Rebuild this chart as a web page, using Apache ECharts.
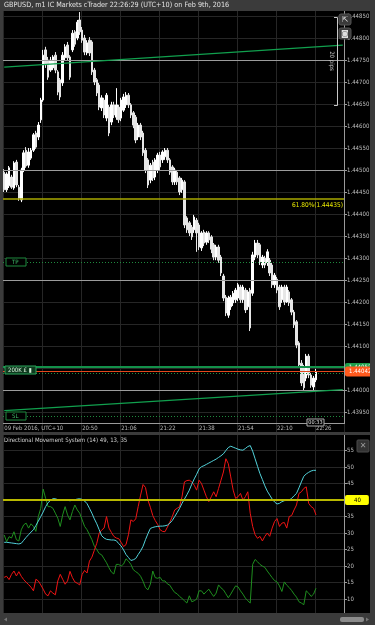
<!DOCTYPE html>
<html><head><meta charset="utf-8">
<script src="https://cdn.jsdelivr.net/npm/echarts@6/dist/echarts.min.js"></script>
<style>html,body{margin:0;padding:0;background:#000;overflow:hidden}#c{width:375px;height:625px}</style>
</head><body><div id="c"></div>
<script>
const FONT = 'DejaVu Sans Condensed, DejaVu Sans, sans-serif';
// time categories: 1-minute bars from 20:18, plus empty future slots
const startMinute = 20 * 60 + 18;
const slotCount = 140;
const categories = [];
for (let i = 0; i < slotCount; i++) {
  const m = startMinute + i;
  categories.push(String(Math.floor(m / 60)).padStart(2, '0') + ':' + String(m % 60).padStart(2, '0'));
}
const dateLabel = '09 Feb 2016, UTC+10';

const opens = [
1.44495,1.44455,1.44464,1.44484,1.44459,1.44518,1.44461,1.44432,1.44500,1.44545,
1.44511,1.44527,1.44545,1.44584,1.44575,1.44614,1.44659,1.44773,1.44750,1.44727,
1.44732,1.44761,1.44723,1.44705,1.44698,1.44755,1.44784,1.44757,1.44773,1.44814,
1.44800,1.44841,1.44818,1.44800,1.44766,1.44795,1.44791,1.44727,1.44705,1.44693,
1.44641,1.44659,1.44618,1.44643,1.44609,1.44648,1.44620,1.44643,1.44618,1.44636,
1.44648,1.44670,1.44648,1.44630,1.44620,1.44575,1.44602,1.44584,1.44545,1.44523,
1.44477,1.44518,1.44484,1.44500,1.44534,1.44523,1.44530,1.44545,1.44523,1.44507,
1.44473,1.44495,1.44482,1.44455,1.44473,1.44391,1.44380,1.44370,1.44364,1.44386,
1.44375,1.44323,1.44359,1.44336,1.44357,1.44348,1.44330,1.44302,1.44325,1.44302,
1.44259,1.44211,1.44170,1.44189,1.44198,1.44205,1.44209,1.44234,1.44205,1.44227,
1.44189,1.44227,1.44220,1.44302,1.44334,1.44330,1.44284,1.44300,1.44289,1.44295,
1.44284,1.44239,1.44252,1.44234,1.44205,1.44234,1.44200,1.44223,1.44205,1.44177,
1.44155,1.44107,1.44061,1.44052,1.44027,1.44077,1.44034,1.44007,1.44023];
const closes = [
1.44455,1.44491,1.44505,1.44461,1.44516,1.44466,1.44436,1.44500,1.44539,1.44509,
1.44541,1.44545,1.44580,1.44552,1.44602,1.44659,1.44761,1.44739,1.44711,1.44750,
1.44757,1.44727,1.44677,1.44666,1.44761,1.44780,1.44755,1.44711,1.44811,1.44786,
1.44836,1.44814,1.44795,1.44768,1.44789,1.44766,1.44723,1.44700,1.44675,1.44643,
1.44664,1.44625,1.44670,1.44584,1.44648,1.44625,1.44648,1.44614,1.44659,1.44666,
1.44670,1.44648,1.44625,1.44602,1.44568,1.44602,1.44575,1.44539,1.44500,1.44466,
1.44511,1.44482,1.44523,1.44534,1.44507,1.44541,1.44545,1.44523,1.44495,1.44473,
1.44500,1.44473,1.44450,1.44477,1.44375,1.44364,1.44357,1.44348,1.44393,1.44357,
1.44325,1.44357,1.44334,1.44357,1.44341,1.44320,1.44302,1.44325,1.44295,1.44266,
1.44209,1.44175,1.44209,1.44211,1.44220,1.44227,1.44239,1.44205,1.44234,1.44182,
1.44223,1.44141,1.44307,1.44334,1.44307,1.44291,1.44302,1.44284,1.44314,1.44266,
1.44239,1.44261,1.44227,1.44189,1.44234,1.44200,1.44234,1.44198,1.44177,1.44148,
1.44102,1.44057,1.44016,1.44005,1.44077,1.44034,1.44011,1.44027,1.44042];
const lows = [
1.44450,1.44450,1.44459,1.44457,1.44455,1.44461,1.44430,1.44427,1.44495,1.44505,
1.44505,1.44523,1.44541,1.44548,1.44568,1.44607,1.44655,1.44732,1.44705,1.44723,
1.44727,1.44720,1.44670,1.44659,1.44691,1.44750,1.44750,1.44705,1.44768,1.44780,
1.44795,1.44807,1.44789,1.44761,1.44761,1.44759,1.44716,1.44693,1.44668,1.44636,
1.44634,1.44618,1.44611,1.44577,1.44602,1.44618,1.44614,1.44607,1.44611,1.44632,
1.44641,1.44641,1.44618,1.44595,1.44561,1.44568,1.44568,1.44532,1.44493,1.44459,
1.44470,1.44475,1.44477,1.44493,1.44500,1.44516,1.44523,1.44516,1.44489,1.44466,
1.44466,1.44466,1.44443,1.44448,1.44368,1.44357,1.44350,1.44341,1.44357,1.44314,
1.44318,1.44316,1.44327,1.44330,1.44334,1.44311,1.44295,1.44295,1.44289,1.44259,
1.44202,1.44168,1.44164,1.44182,1.44191,1.44198,1.44202,1.44198,1.44198,1.44175,
1.44182,1.44134,1.44214,1.44295,1.44300,1.44284,1.44277,1.44277,1.44282,1.44259,
1.44232,1.44232,1.44220,1.44182,1.44198,1.44193,1.44198,1.44191,1.44170,1.44141,
1.44095,1.44050,1.44009,1.44000,1.44020,1.44027,1.44005,1.44000,1.44018];
const highs = [
1.44502,1.44495,1.44509,1.44489,1.44520,1.44523,1.44466,1.44505,1.44545,1.44552,
1.44550,1.44550,1.44584,1.44589,1.44609,1.44664,1.44773,1.44780,1.44757,1.44757,
1.44761,1.44768,1.44727,1.44709,1.44768,1.44786,1.44791,1.44761,1.44818,1.44818,
1.44841,1.44859,1.44825,1.44807,1.44795,1.44802,1.44795,1.44732,1.44709,1.44698,
1.44670,1.44664,1.44675,1.44648,1.44655,1.44655,1.44686,1.44648,1.44664,1.44673,
1.44677,1.44675,1.44652,1.44634,1.44625,1.44607,1.44607,1.44589,1.44550,1.44527,
1.44516,1.44523,1.44527,1.44539,1.44541,1.44545,1.44550,1.44550,1.44527,1.44511,
1.44505,1.44500,1.44486,1.44482,1.44477,1.44395,1.44384,1.44375,1.44398,1.44391,
1.44380,1.44361,1.44364,1.44361,1.44361,1.44352,1.44334,1.44330,1.44330,1.44307,
1.44264,1.44216,1.44214,1.44216,1.44225,1.44232,1.44243,1.44239,1.44239,1.44232,
1.44227,1.44232,1.44314,1.44341,1.44341,1.44334,1.44307,1.44305,1.44320,1.44300,
1.44289,1.44266,1.44257,1.44239,1.44239,1.44239,1.44239,1.44227,1.44209,1.44182,
1.44159,1.44111,1.44068,1.44057,1.44082,1.44082,1.44039,1.44032,1.44048];

// Directional Movement System (14)
const adx = [
27.2,27.2,27.1,27.0,26.9,26.8,26.7,26.9,27.8,28.7,
29.5,30.3,31.0,32.3,33.6,35.0,36.4,38.0,39.2,39.9,
40.4,40.4,40.1,39.9,40.0,40.0,39.9,39.8,39.9,40.1,
40.3,40.4,40.2,39.7,38.9,37.5,36.0,34.3,32.8,31.0,
29.2,28.5,28.1,28.0,27.9,27.9,27.7,26.8,26.1,24.9,
23.5,22.6,21.7,21.9,22.3,23.5,24.6,26.0,28.0,29.8,
31.4,31.7,31.9,32.0,32.1,32.1,32.2,32.4,33.0,33.8,
35.0,36.2,37.5,39.0,40.3,41.6,43.0,44.8,46.4,47.8,
49.4,50.1,50.4,50.8,51.2,51.6,52.0,52.4,52.9,53.4,
54.0,55.0,55.9,56.3,56.0,55.7,55.4,55.2,55.1,55.6,
56.2,56.5,54.8,52.5,50.2,48.0,46.2,44.3,42.7,41.5,
40.3,39.4,38.8,39.0,39.5,39.8,39.9,40.0,40.5,41.3,
42.0,43.7,45.5,47.2,47.9,48.4,48.8,49.0,49.0];
const diMinus = [
16.6,16.9,15.9,17.5,18.5,17.0,18.3,16.9,15.9,15.1,
14.4,13.6,12.5,16.0,15.5,14.3,13.0,11.5,11.0,12.5,
11.8,11.3,15.5,17.5,16.0,14.5,15.5,18.4,16.5,15.2,
14.8,14.3,17.5,18.7,17.9,21.5,22.7,24.8,26.9,30.0,
30.9,31.5,35.0,31.5,30.2,29.0,28.5,28.3,27.2,25.9,
26.5,29.5,34.0,33.5,34.3,38.0,41.5,44.7,43.8,40.0,
37.8,35.3,33.8,32.6,31.0,30.5,30.4,31.8,33.3,35.0,
37.0,37.5,38.0,41.0,45.5,45.9,46.0,45.5,44.5,43.0,
46.0,45.0,43.0,41.0,39.5,41.0,42.5,41.0,43.5,46.0,
48.5,52.5,51.0,47.0,43.0,40.5,41.0,42.0,40.0,41.0,
42.5,36.0,32.0,29.5,28.4,29.0,27.6,29.0,30.0,29.0,
31.5,33.5,34.4,32.0,33.0,33.2,31.5,35.0,35.3,37.0,
38.5,42.0,42.5,43.5,44.0,39.0,38.0,37.5,35.5];
const diPlus = [
29.4,27.4,28.9,28.5,30.4,28.0,27.6,31.0,32.5,33.0,
31.5,32.8,32.0,30.5,35.0,37.5,43.3,40.5,38.0,38.0,
37.5,36.0,34.5,32.0,35.5,38.0,35.5,34.0,36.5,38.5,
37.0,36.0,34.0,32.0,31.0,29.5,28.0,26.0,25.0,23.8,
23.4,22.2,21.0,19.5,18.2,17.6,20.5,20.5,20.0,20.6,
22.2,21.5,20.5,18.9,18.3,17.8,16.9,15.4,13.5,12.8,
14.5,18.5,16.5,16.3,16.6,15.5,15.5,14.6,14.2,13.0,
12.0,11.6,10.8,10.2,9.5,8.8,11.0,9.2,9.5,10.0,
12.5,12.5,11.5,12.3,13.0,11.8,10.8,11.8,14.3,13.4,
12.8,11.6,10.4,11.5,12.8,14.0,13.7,12.5,11.5,10.3,
9.5,8.8,20.5,22.0,21.3,20.5,20.0,19.6,18.5,17.5,
16.5,15.6,15.2,14.0,12.3,15.2,14.2,13.5,12.6,11.5,
10.6,9.2,8.8,8.3,12.5,11.8,10.8,11.5,13.3];

// drawn levels
const roundLevels = [1.44750, 1.44500, 1.44250, 1.44000];
const fibLevel = 1.44435, fibText = '61.80%(1.44435)';
const tpLevel = 1.44290, slLevel = 1.43941;
const entryLevel = 1.44052, bidLevel = 1.44042, askDotLevel = 1.44038;
const trendUpper = [1.44734, 1.44784];
const trendLower = [1.43953, 1.44001];
const dmsLevel = 40;
const titleText = 'GBPUSD, m1 IC Markets cTrader 22:26:29 (UTC+10) on Feb 9th, 2016';
const dmsTitle = 'Directional Movement System (14) 49, 13, 35';

const candleData = opens.map((o, i) => [o, closes[i], lows[i], highs[i]]);
const gridFn = (idx) => idx % 16 === 0;
const labelFn = (idx) => idx === 0 || (idx >= 32 && idx <= 128 && idx % 16 === 0);
const GRID = '#262626';
const FRAME = '#3b3b3b';

const chart = echarts.init(document.getElementById('c'), null, {renderer: 'canvas'});
const hl = (v, color, type, width) => ({yAxis: v, lineStyle: {color, type, width}, label: {show: false}});

chart.setOption({
  backgroundColor: '#000',
  animation: false,
  grid: [
    {left: 3, right: 31, top: -6, height: 440, outerBoundsMode: 'none', containLabel: false},
    {left: 3, right: 31, top: 434, height: 181.6, outerBoundsMode: 'none', containLabel: false}
  ],
  xAxis: [
    {gridIndex: 0, type: 'category', data: categories, boundaryGap: true,
     axisLine: {show: false}, axisTick: {show: false},
     axisLabel: {interval: (i) => labelFn(i), align: 'left', margin: -9, color: '#b8b8b8', fontSize: 6, fontFamily: FONT,
       formatter: (v, i) => i === 0 ? dateLabel : v},
     splitLine: {show: true, interval: (i) => gridFn(i), lineStyle: {color: GRID, width: 1}}},
    {gridIndex: 1, type: 'category', data: categories, boundaryGap: true,
     axisLine: {show: false}, axisTick: {show: false}, axisLabel: {show: false},
     splitLine: {show: true, interval: (i) => gridFn(i), lineStyle: {color: GRID, width: 1}}}
  ],
  yAxis: [
    {gridIndex: 0, type: 'value', position: 'right', min: 1.439, max: 1.449, interval: 0.0005, scale: true,
     axisLine: {show: false}, axisTick: {show: true, length: 3, lineStyle: {color: '#9a9a9a'}},
     axisLabel: {margin: 3, color: '#bdbdbd', fontSize: 6, fontFamily: FONT,
       formatter: (v) => (v < 1.4392 || v > 1.4488) ? '' : v.toFixed(5)},
     splitLine: {show: true, lineStyle: {color: GRID, width: 1}}},
    {gridIndex: 1, type: 'value', position: 'right', min: 5, max: 60, interval: 5,
     axisLine: {show: true, lineStyle: {color: '#9a9a9a', width: 1}}, axisTick: {show: true, length: 3, lineStyle: {color: '#9a9a9a'}},
     axisLabel: {margin: 3, color: '#bdbdbd', fontSize: 6, fontFamily: FONT,
       formatter: (v) => (v >= 10 && v <= 55) ? String(v) : ''},
     splitLine: {show: true, lineStyle: {color: GRID, width: 1}}}
  ],
  series: [
    {type: 'candlestick', xAxisIndex: 0, yAxisIndex: 0, data: candleData, barWidth: 2,
     itemStyle: {color: '#ffffff', color0: '#e6e6e6', borderColor: '#ffffff', borderColor0: '#e6e6e6', borderWidth: 1},
     markLine: {symbol: ['none', 'none'], silent: true, animation: false, precision: 5,
       data: [
         ...roundLevels.map(v => hl(v, '#9c9c9c', 'solid', 1)),
         {yAxis: fibLevel, lineStyle: {color: '#a8a800', type: 'solid', width: 1.5},
          label: {show: true, position: 'insideEndBottom', formatter: fibText, color: '#eaea00', fontSize: 6.5, fontFamily: FONT, distance: [1, 3]}},
         hl(tpLevel, '#1f8a3e', [1, 2], 1),
         hl(slLevel, '#1f8a3e', [1, 2], 1),
         hl(askDotLevel, '#1f8a3e', [1, 2], 1),
         {yAxis: entryLevel, lineStyle: {color: '#13904a', type: 'solid', width: 2},
          label: {show: true, position: 'end', distance: 1, formatter: '1.44052', backgroundColor: '#1c9e4c', color: '#ffffff',
            fontSize: 6, fontFamily: FONT, padding: [1, 3, 1, 4], borderRadius: 2}},
         {yAxis: bidLevel, lineStyle: {color: '#e4471c', type: 'solid', width: 1},
          label: {show: true, position: 'end', distance: 1, formatter: '1.44042', backgroundColor: '#ff5a1e', color: '#ffffff',
            fontSize: 6, fontFamily: FONT, padding: [2, 3, 2, 4], borderRadius: 2}},
         [{coord: [0, trendUpper[0]], lineStyle: {color: '#11a04e', type: 'solid', width: 1.2}}, {coord: [139, trendUpper[1]]}],
         [{coord: [0, trendLower[0]], lineStyle: {color: '#11a04e', type: 'solid', width: 1.2}}, {coord: [139, trendLower[1]]}]
       ]}},
    {type: 'line', name: '+DI', xAxisIndex: 1, yAxisIndex: 1, data: diPlus, symbol: 'none',
     lineStyle: {color: '#1f8f1f', width: 1}},
    {type: 'line', name: '-DI', xAxisIndex: 1, yAxisIndex: 1, data: diMinus, symbol: 'none',
     lineStyle: {color: '#f01414', width: 1}},
    {type: 'line', name: 'ADX', xAxisIndex: 1, yAxisIndex: 1, data: adx, symbol: 'none',
     lineStyle: {color: '#52d2da', width: 1},
     markLine: {symbol: ['none', 'none'], silent: true, animation: false,
       data: [{yAxis: dmsLevel, lineStyle: {color: '#b9b900', type: 'solid', width: 2},
         label: {show: true, position: 'end', distance: 1, formatter: String(dmsLevel), backgroundColor: '#ffff00', color: '#000',
           fontSize: 6, fontFamily: FONT, padding: [2, 8, 2, 9], borderRadius: 2}}]}}
  ],
  graphic: [
    // frame
    {type: 'rect', z: 100, shape: {x: 0, y: 0, width: 375, height: 11}, style: {fill: FRAME}},
    {type: 'text', z: 101, left: 4, top: 1.5, style: {text: titleText, fill: '#e2e2e2', font: '7.2px ' + FONT}},
    {type: 'rect', z: 100, shape: {x: 0, y: 0, width: 3, height: 625}, style: {fill: FRAME}},
    {type: 'rect', z: 100, shape: {x: 370, y: 0, width: 5, height: 625}, style: {fill: FRAME}},
    {type: 'rect', z: 100, shape: {x: 0, y: 432, width: 375, height: 3}, style: {fill: FRAME}},
    {type: 'rect', z: 100, shape: {x: 0, y: 613, width: 375, height: 12}, style: {fill: FRAME}},
    {type: 'rect', z: 101, shape: {x: 340, y: 617, width: 24, height: 5, r: 2}, style: {fill: '#8c8c8c'}},
    {type: 'polygon', z: 101, shape: {points: [[4, 619.5], [7, 617.5], [7, 621.5]]}, style: {fill: '#777'}},
    {type: 'polygon', z: 101, shape: {points: [[369, 619.5], [366, 617.5], [366, 621.5]]}, style: {fill: '#777'}},
    // axis lines of price pane
    {type: 'line', z: 90, shape: {x1: 344.5, y1: 11, x2: 344.5, y2: 423}, style: {stroke: '#9a9a9a', lineWidth: 1}},
    {type: 'line', z: 90, shape: {x1: 3, y1: 423.5, x2: 345, y2: 423.5}, style: {stroke: '#9a9a9a', lineWidth: 1}},
    // top right buttons
    {type: 'rect', z: 102, shape: {x: 339, y: 14, width: 12, height: 11, r: 2}, style: {fill: '#3a3a3a', stroke: '#555'}},
    {type: 'text', z: 103, x: 345, y: 19.5, style: {text: '⇱', fill: '#ddd', font: '8px DejaVu Sans', align: 'center', verticalAlign: 'middle'}},
    {type: 'rect', z: 102, shape: {x: 339, y: 28, width: 12, height: 11, r: 2}, style: {fill: '#3a3a3a', stroke: '#555'}},
    {type: 'text', z: 103, x: 345, y: 33.5, style: {text: '◙', fill: '#ddd', font: '8px DejaVu Sans', align: 'center', verticalAlign: 'middle'}},
    // 20 pips ruler
    {type: 'polyline', z: 95, shape: {points: [[334, 17.5], [337.5, 17.5], [337.5, 105.5], [334, 105.5]]}, style: {stroke: '#c8c8c8', lineWidth: 1, fill: null}},
    {type: 'text', z: 95, x: 332, y: 61, rotation: -Math.PI / 2, style: {text: '20 pips', fill: '#c8c8c8', font: '6px ' + FONT, align: 'center', verticalAlign: 'middle'}},
    // order labels on the left
    {type: 'rect', z: 95, shape: {x: 6, y: 258, width: 20, height: 8}, style: {fill: '#000', stroke: '#1f8a3e'}},
    {type: 'text', z: 96, x: 12, y: 262, style: {text: 'TP', fill: '#3fbf6a', font: '6px ' + FONT, verticalAlign: 'middle'}},
    {type: 'rect', z: 95, shape: {x: 5, y: 366, width: 31, height: 8}, style: {fill: '#0e3a1e', stroke: '#2aa55a'}},
    {type: 'text', z: 96, x: 8, y: 370, style: {text: '200K £ ▮', fill: '#d8f0dc', font: '6px ' + FONT, verticalAlign: 'middle'}},
    {type: 'rect', z: 95, shape: {x: 6, y: 412, width: 20, height: 8}, style: {fill: '#000', stroke: '#1f8a3e'}},
    {type: 'text', z: 96, x: 12, y: 416, style: {text: 'SL', fill: '#3fbf6a', font: '6px ' + FONT, verticalAlign: 'middle'}},
    // countdown
    {type: 'rect', z: 96, shape: {x: 307, y: 419, width: 17, height: 7}, style: {fill: '#000', stroke: '#aaa'}},
    {type: 'text', z: 97, x: 315.5, y: 422.5, style: {text: '00:33', fill: '#e0e0e0', font: '5.5px ' + FONT, align: 'center', verticalAlign: 'middle'}},
    // lower pane title and close button
    {type: 'text', z: 96, left: 4, top: 437.5, style: {text: dmsTitle, fill: '#d0d0d0', font: '6px ' + FONT}},
    {type: 'rect', z: 96, shape: {x: 357, y: 440, width: 12, height: 12, r: 1}, style: {fill: '#333', stroke: '#4a4a4a'}},
    {type: 'text', z: 97, x: 363, y: 446, style: {text: '✕', fill: '#9a9a9a', font: '8px DejaVu Sans', align: 'center', verticalAlign: 'middle'}}
  ]
});
</script>
</body></html>
